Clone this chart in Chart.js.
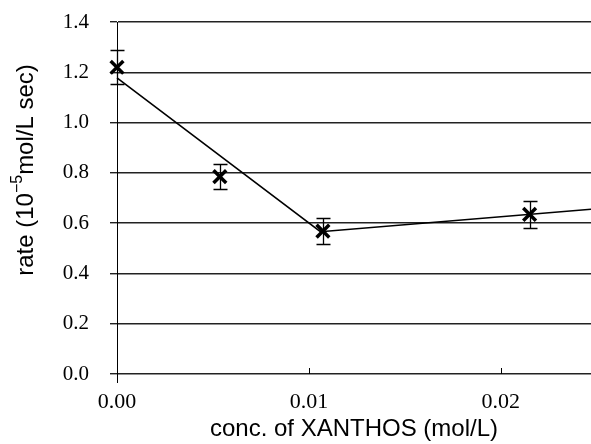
<!DOCTYPE html>
<html>
<head>
<meta charset="utf-8">
<script src="https://cdn.jsdelivr.net/npm/chart.js@4.4.1/dist/chart.umd.min.js"></script>
<style>
  html, body { margin: 0; padding: 0; background: #fff; }
  #wrap { width: 591px; height: 444px; position: relative; }
</style>
</head>
<body>
<div id="wrap"><canvas id="rateChart"></canvas></div>
<script>
// measured points (conc. mol/L, rate 10^-5 mol/L sec)
const concValues = [0.0, 0.00536, 0.01073, 0.0215];
const rateValues = [1.22, 0.785, 0.568, 0.635];
const rateErrors = [0.068, 0.05, 0.052, 0.055];

// fitted two-segment line
const fitConc = [0.0, 0.0106, 0.0247];
const fitRate = [1.178, 0.566, 0.655];

const yTicks = [0.0, 0.2, 0.4, 0.6, 0.8, 1.0, 1.2, 1.4];
const xTicks = [0.00, 0.01, 0.02];

const tickFont = { family: "'Liberation Serif', 'DejaVu Serif', serif", size: 21 };
const titleFamily = "'Liberation Sans', Arial, sans-serif";

// error bars + little upward x ticks + y title with superscript
const extras = {
    id: 'extras',
    afterDatasetsDraw(c) {
        const ctx = c.ctx;
        const xs = c.scales.x, ys = c.scales.y;
        ctx.save();
        ctx.strokeStyle = '#000';
        ctx.lineWidth = 1.3;
        concValues.forEach((cx, i) => {
            const px = Math.round(xs.getPixelForValue(cx)) + 0.5;
            const top = Math.round(ys.getPixelForValue(rateValues[i] + rateErrors[i])) + 0.5;
            const bot = Math.round(ys.getPixelForValue(rateValues[i] - rateErrors[i])) + 0.5;
            ctx.beginPath();
            ctx.moveTo(px, top); ctx.lineTo(px, bot);
            ctx.moveTo(px - 7, top); ctx.lineTo(px + 7, top);
            ctx.moveTo(px - 7, bot); ctx.lineTo(px + 7, bot);
            ctx.stroke();
        });
        ctx.restore();
    },
    afterDraw(c) {
        const ctx = c.ctx;
        const xs = c.scales.x, area = c.chartArea;
        ctx.save();
        ctx.strokeStyle = '#000';
        ctx.lineWidth = 1;
        xTicks.forEach(t => {
            const px = Math.round(xs.getPixelForValue(t)) + 0.5;
            ctx.beginPath();
            ctx.moveTo(px, area.bottom); ctx.lineTo(px, area.bottom - 6);
            ctx.stroke();
        });
        // y axis line runs a bit below the x axis
        const ax = Math.round(xs.getPixelForValue(0)) + 0.5;
        ctx.beginPath();
        ctx.moveTo(ax, area.bottom); ctx.lineTo(ax, area.bottom + 9);
        ctx.stroke();

        // y title: rate (10^-5 mol/L sec)
        ctx.translate(26, 170);
        ctx.rotate(-Math.PI / 2);
        ctx.fillStyle = '#000';
        ctx.textBaseline = 'middle';
        const parts = [
            { t: 'rate (10', f: '24px ' + titleFamily, dy: 0 },
            { t: '\u22125', f: '16px ' + titleFamily, dy: -8 },
            { t: 'mol/L sec)', f: '24px ' + titleFamily, dy: 0 }
        ];
        let w = 0;
        parts.forEach(p => { ctx.font = p.f; w += ctx.measureText(p.t).width; });
        let x = -w / 2;
        parts.forEach(p => {
            ctx.font = p.f;
            ctx.fillText(p.t, x, p.dy);
            x += ctx.measureText(p.t).width;
        });
        ctx.restore();
    }
};

const ctx = document.getElementById('rateChart').getContext('2d');
const chart = new Chart(ctx, {
    type: 'scatter',
    data: {
        datasets: [{
            label: 'fit',
            data: fitConc.map((x, i) => ({ x: x, y: fitRate[i] })),
            showLine: true,
            borderColor: '#000',
            borderWidth: 1.6,
            pointRadius: 0,
            clip: false,
            order: 2
        }, {
            label: 'rate',
            data: concValues.map((x, i) => ({ x: x, y: rateValues[i] })),
            showLine: false,
            pointStyle: 'crossRot',
            pointRadius: 9,
            borderColor: '#000',
            backgroundColor: '#000',
            pointBorderWidth: 3.5,
            clip: false,
            order: 1
        }]
    },
    options: {
        responsive: true,
        maintainAspectRatio: false,
        animation: false,
        layout: { autoPadding: false, padding: { top: 22, right: 0, left: 0, bottom: 0 } },
        plugins: {
            legend: { display: false },
            tooltip: { enabled: false }
        },
        scales: {
            x: {
                type: 'linear',
                min: 0,
                max: 0.0247,
                afterBuildTicks: s => { s.ticks = xTicks.map(v => ({ value: v })); },
                afterFit: s => { s.height = 70; s.paddingLeft = 0; s.paddingRight = 0; },
                grid: { display: false, drawTicks: false },
                border: { display: false },
                ticks: {
                    color: '#000',
                    font: { family: tickFont.family, size: 22 },
                    padding: 15,
                    maxRotation: 0,
                    callback: v => v.toFixed(2)
                },
                title: {
                    display: true,
                    text: 'conc. of XANTHOS (mol/L)',
                    color: '#000',
                    font: { family: titleFamily, size: 24 },
                    padding: { top: 0, bottom: 0 }
                }
            },
            y: {
                min: 0,
                max: 1.4,
                afterBuildTicks: s => { s.ticks = yTicks.map(v => ({ value: v })); },
                afterFit: s => { s.width = 117; s.paddingTop = 0; s.paddingBottom = 0; },
                grid: {
                    color: '#222',
                    lineWidth: 1.4,
                    drawTicks: true,
                    tickLength: 7
                },
                border: { display: true, color: '#000', width: 1 },
                ticks: {
                    color: '#000',
                    font: tickFont,
                    padding: 21,
                    callback: v => v.toFixed(1)
                }
            }
        }
    },
    plugins: [extras]
});
</script>
</body>
</html>
